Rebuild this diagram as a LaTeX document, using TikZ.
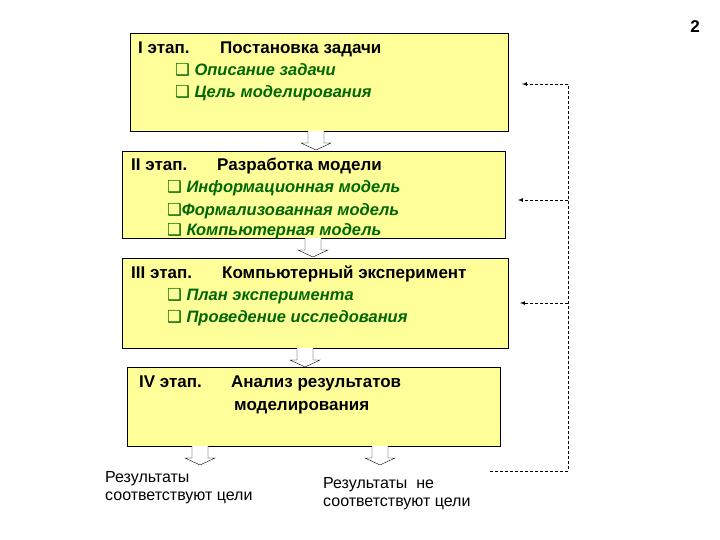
\documentclass[tikz,border=0pt]{standalone}
\usepackage{fontspec}
\setmainfont{Liberation Sans}
\newfontfamily\symfont{DejaVu Sans}
\usetikzlibrary{positioning,calc}
\definecolor{stageyellow}{RGB}{255,255,153}
\definecolor{itemgreen}{RGB}{0,102,0}
\newcommand{\chk}{{\symfont ❑}}
\newcommand{\hollow}[1]{\draw[fill=white] ($(#1)+(-8,0)$) -- ++(0,-12) -- ++(-7,0) -- ($(#1)+(0,-19)$) -- ($(#1)+(15,-12)$) -- ++(-7,0) -- ++(0,12);}
\begin{document}
\begin{tikzpicture}[x=1pt,y=1pt,
  stagebox/.style={draw,fill=stageyellow,line width=0.8pt},
  head/.style={anchor=base west,inner sep=0pt,font=\fontsize{17}{20}\selectfont\bfseries},
  item/.style={anchor=base west,inner sep=0pt,font=\fontsize{16.5}{20}\selectfont\bfseries\itshape,text=itemgreen},
  outtxt/.style={anchor=base west,inner sep=0pt,font=\fontsize{16}{20}\selectfont},
  fb/.style={densely dashed,line width=0.7pt}]
\useasboundingbox (0,0) rectangle (720,-540);
\node at (695,-27) {\fontsize{17}{20}\selectfont\bfseries 2};
% stages
\draw[stagebox] (130,-33) rectangle (508,-131);
\draw[stagebox] (122,-151) rectangle (505,-238);
\draw[stagebox] (122,-258) rectangle (508,-348);
\draw[stagebox] (127,-367) rectangle (500,-446);
\node[head] at (138,-54) {I этап.};
\node[head] at (220,-54) {Постановка задачи};
\node[item] at (175,-76) {\chk\ Описание задачи};
\node[item] at (175,-98) {\chk\ Цель моделирования};
\node[head] at (131,-171) {II этап.};
\node[head] at (217,-171) {Разработка модели};
\node[item] at (167,-193) {\chk\ Информационная модель};
\node[item] at (167,-215) {\chk Формализованная модель};
\node[item] at (167,-236) {\chk\ Компьютерная модель};
\node[head] at (131,-278) {III этап.};
\node[head] at (222,-278) {Компьютерный эксперимент};
\node[item] at (167,-300) {\chk\ План эксперимента};
\node[item] at (167,-322) {\chk\ Проведение исследования};
\node[head] at (139,-387) {IV этап.};
\node[head] at (231,-387) {Анализ результатов};
\node[head] at (234,-410) {моделирования};
% transitions
\coordinate (a1) at (316,-131); \hollow{a1}
\coordinate (a2) at (313,-238); \hollow{a2}
\coordinate (a3) at (305,-348); \hollow{a3}
\coordinate (a4) at (200,-446); \hollow{a4}
\coordinate (a5) at (380,-446); \hollow{a5}
% results
\node[outtxt] at (105,-482) {Результаты};
\node[outtxt] at (105,-500) {соответствуют цели};
\node[outtxt] at (323,-488) {Результаты\ \ не};
\node[outtxt] at (323,-506) {соответствуют цели};
% feedback
\draw[fb] (490,-471) -- (568,-471) -- (568,-84);
\draw[fb,-latex] (568,-84) -- (522,-84);
\draw[fb,-latex] (568,-200) -- (518,-200);
\draw[fb,-latex] (568,-303) -- (520,-303);
\end{tikzpicture}
\end{document}
